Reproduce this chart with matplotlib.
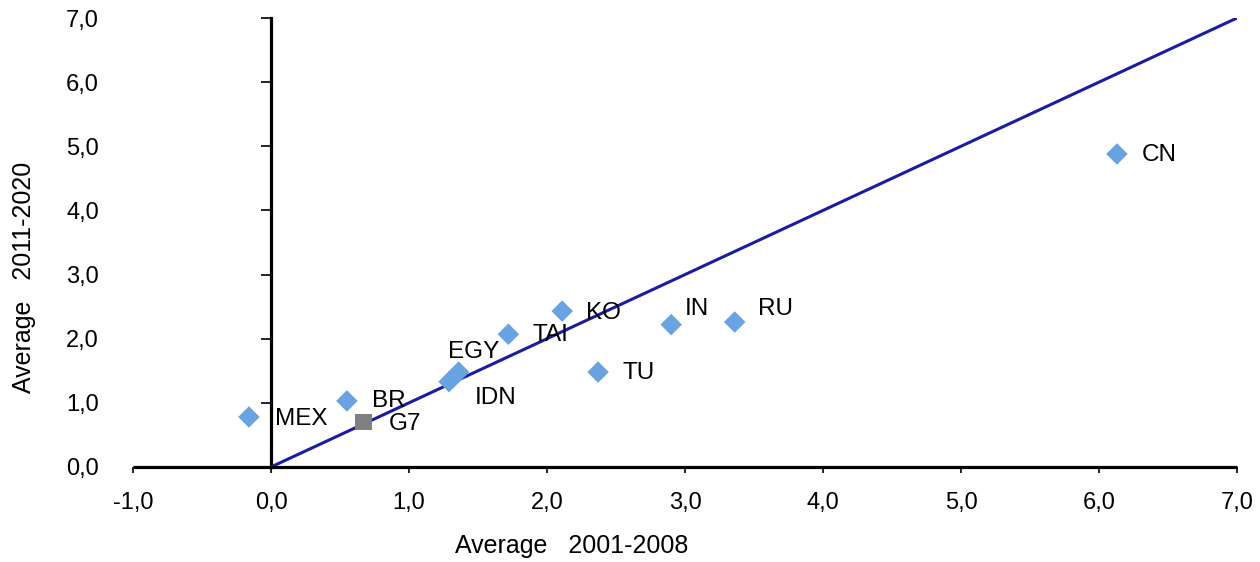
import numpy as np
import matplotlib.pyplot as plt

plt.rcParams['font.family'] = ['Liberation Sans', 'DejaVu Sans']

# data
countries = ['MEX', 'BR', 'IDN', 'EGY', 'TAI', 'KO', 'TU', 'IN', 'RU', 'CN']
avg_2001_2008 = [-0.16, 0.55, 1.29, 1.36, 1.72, 2.11, 2.37, 2.90, 3.36, 6.13]
avg_2011_2020 = [0.78, 1.03, 1.33, 1.48, 2.07, 2.43, 1.48, 2.22, 2.26, 4.88]
g7_x = [0.67]
g7_y = [0.70]
diag_x = [0, 7]
diag_y = [0, 7]
tick_vals = [0, 1, 2, 3, 4, 5, 6, 7]
x_tick_vals = [-1, 0, 1, 2, 3, 4, 5, 6, 7]

# label offsets in points (dx, dy)
label_offsets = {
    'MEX': (18.5, -1.5), 'BR': (18, 0), 'IDN': (18.5, -11.5), 'EGY': (-8, 14.5),
    'TAI': (17.3, -0.7), 'KO': (17.3, -1.4), 'TU': (17.3, -0.7), 'IN': (9.4, 11.5),
    'RU': (16.6, 9.4), 'CN': (18, -0.7),
}

fig = plt.figure(figsize=(12.6, 5.62), dpi=100)
ax = fig.add_axes([133 / 1260, 1 - 467 / 562, (1237 - 133) / 1260, (467 - 18) / 562])

ax.plot(diag_x, diag_y, color='#1c1ca0', lw=2.2, zorder=2, solid_capstyle='butt')
ax.scatter(avg_2001_2008, avg_2011_2020, marker='D', s=120, color='#6aa3e2',
           edgecolors='none', zorder=3)
ax.scatter(g7_x, g7_y, marker='s', s=140, color='#808080', edgecolors='none', zorder=3)

for name, x, y in zip(countries, avg_2001_2008, avg_2011_2020):
    ax.annotate(name, (x, y), xytext=label_offsets[name], textcoords='offset points',
                ha='left', va='center', fontsize=17.5)
ax.annotate('G7', (g7_x[0], g7_y[0]), xytext=(18, -1.5), textcoords='offset points',
            ha='left', va='center', fontsize=17.5)

ax.set_xlim(-1, 7)
ax.set_ylim(0, 7)

for s in ['top', 'right', 'left']:
    ax.spines[s].set_visible(False)
ax.spines['bottom'].set_linewidth(2.3)
ax.spines['bottom'].set_capstyle('butt')

ax.set_xticks(x_tick_vals)
ax.set_xticklabels([f'{v:.1f}'.replace('.', ',') for v in x_tick_vals], fontsize=17)
ax.tick_params(axis='x', direction='out', length=4.5, width=1.2, pad=13.5)

ax.set_yticks(tick_vals)
ax.set_yticklabels([f'{v:.1f}'.replace('.', ',') for v in tick_vals], fontsize=17)
ax.tick_params(axis='y', length=0, pad=24.5)

# y spine drawn at x = 0
sec = ax.secondary_yaxis(1 / 8)
sec.spines['right'].set_visible(False)
sec.spines['left'].set_linewidth(2.3)
sec.set_yticks(tick_vals)
sec.set_yticklabels([])
sec.tick_params(axis='y', direction='out', length=7, width=1.2)

fig.text(572 / 1260, 1 - 546 / 562, 'Average   2001-2008', ha='center', va='center', fontsize=18)
fig.text(24 / 1260, 1 - 277 / 562, 'Average   2011-2020', ha='center', va='center',
         rotation=90, fontsize=18)

fig.savefig('out.png', dpi=100)
